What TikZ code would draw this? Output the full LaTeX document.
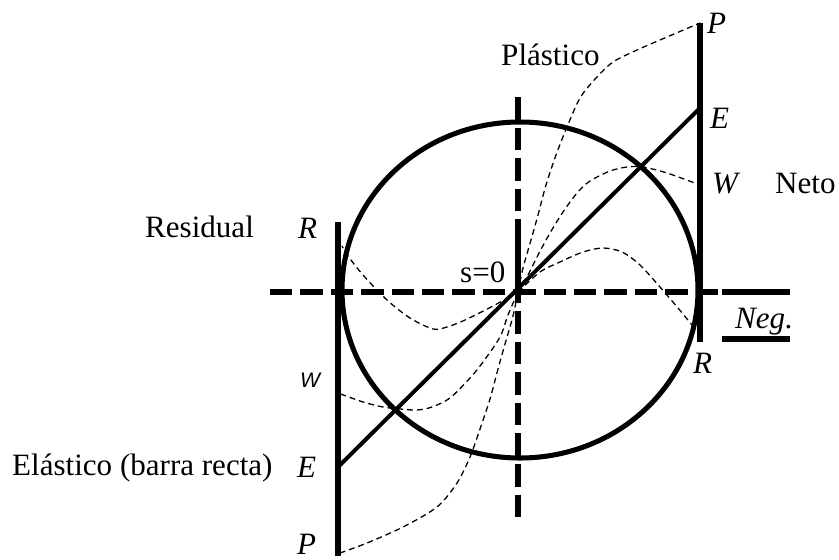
\documentclass[tikz,border=0pt]{standalone}
\usepackage{fontspec}
\setmainfont{Liberation Serif}
\newfontfamily\wfont{Liberation Sans}
\begin{document}
\begin{tikzpicture}[x=0.03cm,y=-0.03cm,
  thickline/.style={line width=4.3pt},
  diagline/.style={line width=3.4pt},
  haxis/.style={line width=4.3pt, dash pattern=on 19.12pt off 6.83pt},
  vaxis/.style={line width=4.3pt, dash pattern=on 19.27pt off 6.83pt},
  thindash/.style={line width=1.1pt, dash pattern=on 5pt off 3.4pt},
  lbl/.style={inner sep=0pt, anchor=base west, font=\fontsize{26.5}{30}\selectfont},
  ilbl/.style={inner sep=0pt, anchor=base west, font=\fontsize{26.5}{30}\selectfont\itshape}]
\useasboundingbox (0,0) rectangle (839,559);
% coordinates
\coordinate (O) at (518,292);
\coordinate (PR) at (700,23);
\coordinate (ER) at (700,108);
\coordinate (WR) at (700,185);
\coordinate (RR) at (700,342);
\coordinate (RL) at (338,222);
\coordinate (WL) at (338,393);
\coordinate (EL) at (338,467);
\coordinate (PL) at (338,556);
\coordinate (HA) at (270,292);
\coordinate (HB) at (718,292);
\coordinate (HC) at (722,292);
\coordinate (HD) at (790,292);
\coordinate (VA) at (518,97);
\coordinate (VB) at (518,517);
\coordinate (VS) at (518,240);
\coordinate (NA) at (722,339);
\coordinate (NB) at (790,339);
% axes
\draw[haxis] (HA) -- (HB);
\draw[thickline] (HC) -- (HD);
\draw[vaxis] (VA) -- (VB);
\draw[thickline] (VS) -- (O);
% circle
\draw[thickline] (520,290) ellipse [x radius=178, y radius=168];
% bars
\draw[thickline] (PR) -- (RR);
\draw[thickline] (RL) -- (PL);
\draw[diagline] (EL) -- (ER);
\draw[thickline] (NA) -- (NB);
% thin dashed curves
\draw[thindash] plot[smooth] coordinates {(O) (523,268) (531,240) (538,215) (546,185) (556,155) (567,127) (580,98) (596,78) (613,62) (637,50) (667,37) (PR)};
\draw[thindash] plot[smooth] coordinates {(O) (513,316) (505,344) (498,369) (490,399) (480,429) (470,457) (457,483) (437,507) (403,527) (367,543) (340,553)};
\draw[thindash] plot[smooth] coordinates {(O) (528,275) (538,255) (550,233) (563,212) (577,193) (590,181) (610,171) (627,167) (643,167) (667,173) (WR)};
\draw[thindash] plot[smooth] coordinates {(O) (508,315) (500,337) (483,362) (470,378) (450,398) (432,407) (417,410) (400,409) (383,407) (363,402) (WL)};
\draw[thindash] plot[smooth] coordinates {(O) (540,272) (560,262) (583,252) (603,248) (622,252) (640,265) (660,287) (678,308) (692,325)};
\draw[thindash] plot[smooth] coordinates {(O) (493,306) (465,320) (447,327) (433,329) (410,318) (387,300) (363,275) (348,256) (342,246)};
% labels
\node[lbl] (plast) at (501,65) {Plástico};
\node[ilbl] (lPR) at (707,33) {P};
\node[ilbl] (lER) at (710,128) {E};
\node[ilbl] (lWR) at (712,193) {W};
\node[lbl] (neto) at (775,193) {Neto};
\node[lbl] (resid) at (145,237) {Residual};
\node[ilbl] (lRL) at (298,238) {R};
\node[lbl] (s0) at (460,282) {s=0};
\node[ilbl] (neg) at (735,328) {Neg.};
\node[ilbl] (lRR) at (693,373) {R};
\node[inner sep=0pt, anchor=base west, font=\fontsize{18}{20}\selectfont\wfont\itshape] (lWL) at (300,387) {W};
\node[ilbl] (lEL) at (297,477) {E};
\node[ilbl] (lPL) at (297,554) {P};
\node[lbl] (elast) at (12,475) {Elástico (barra recta)};
\end{tikzpicture}
\end{document}
